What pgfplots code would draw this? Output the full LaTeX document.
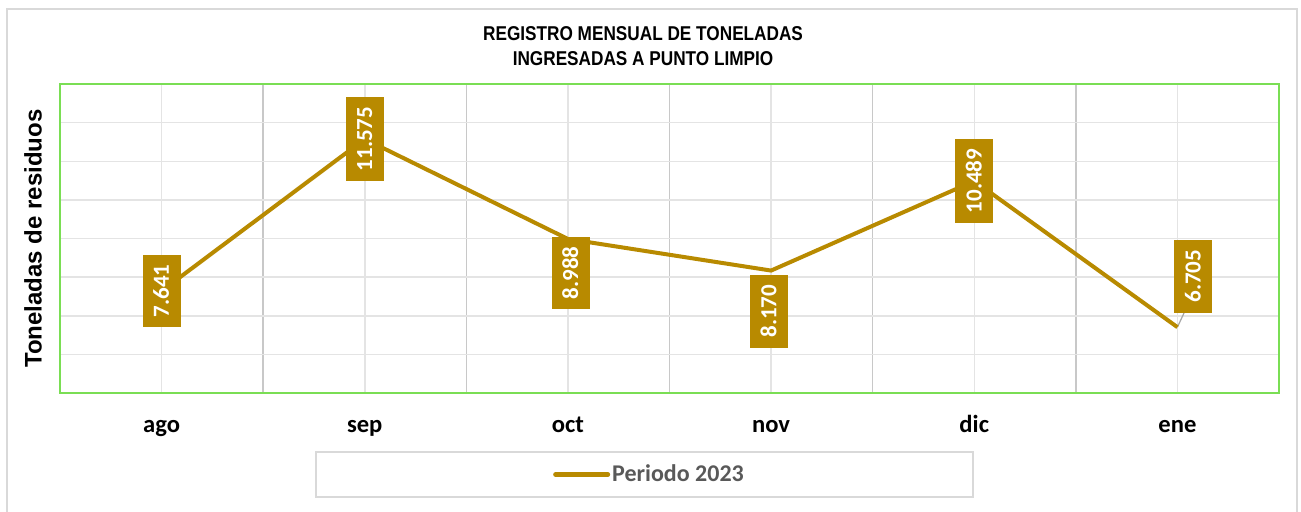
\documentclass[border=0pt]{standalone}
\usepackage{pgfplots}
\usepackage{pgfplotstable}
\pgfplotsset{compat=1.18}
\usepackage{fontspec}
\setmainfont{Liberation Sans}
\newfontfamily\calibri{Carlito}
\newfontfamily\narrowfont{Liberation Sans}[FakeStretch=0.86]
\definecolor{gold}{RGB}{184,138,0}
\definecolor{greenframe}{RGB}{122,222,84}
\definecolor{gridlight}{RGB}{228,228,228}
\definecolor{griddark}{RGB}{200,200,200}
\definecolor{legtext}{RGB}{89,89,89}
\definecolor{frame}{RGB}{217,217,217}

\pgfplotstableread{
x y lab dx dy
0 7.641 7.641 0 0
1 11.575 11.575 0 0
2 8.988 8.988 1.5 -17
3 8.170 8.170 -1 -20.3
4 10.489 10.489 0 0
5 6.705 6.705 8 25.5
}\datatable

\begin{document}
\begin{tikzpicture}
\useasboundingbox (0,0) rectangle (650.5bp,-256bp);
\fill[white] (0,0) rectangle (650.5bp,-256bp);
\draw[frame, line width=1.2bp] (3.5bp,-4.5bp) rectangle (648.5bp,-300bp);
\draw[frame, line width=0.6bp] (158bp,-226bp) rectangle (486.5bp,-248.5bp);
\begin{axis}[
  at={(30bp,-196.5bp)}, anchor=south west,
  scale only axis, width=609.5bp, height=154.5bp,
  xmin=-0.5, xmax=5.5, ymin=5, ymax=13,
  xtick={0,...,5}, xticklabels={ago,sep,oct,nov,dic,ene},
  minor xtick={0.5,1.5,...,4.5},
  ytick={5,...,13}, yticklabels={},
  major tick length=0pt, minor tick length=0pt,
  xmajorgrids, ymajorgrids, xminorgrids,
  major grid style={gridlight, line width=0.75bp},
  minor grid style={griddark, line width=0.75bp},
  axis line style={greenframe, line width=1.3bp},
  xticklabel style={font=\calibri\bfseries\fontsize{12.3bp}{14bp}\selectfont, anchor=base, yshift=-19.5bp},
  title={REGISTRO MENSUAL DE TONELADAS\\INGRESADAS A PUNTO LIMPIO},
  title style={at={(axis description cs:0.4783,1.0825)}, anchor=center, align=center,
    font=\narrowfont\fontsize{10bp}{12.5bp}\selectfont\bfseries},
  ylabel={Toneladas de residuos},
  ylabel style={at={(axis description cs:-0.0222,0.5)}, anchor=center,
    font=\bfseries\fontsize{12bp}{14bp}\selectfont},
  legend style={at={(axis description cs:0.4836,-0.2638)}, anchor=center, draw=none, fill=none,
    font=\calibri\bfseries\fontsize{12bp}{14bp}\selectfont, text=legtext, inner sep=0pt,
    nodes={inner sep=1bp}},
  legend image code/.code={\draw[#1] (0bp,0bp) -- (26bp,0bp);},
]
\addlegendimage{gold, line width=2.5bp, line cap=round}
\addlegendentry{Periodo 2023}
\addplot[gray!70, line width=0.6bp, forget plot] coordinates {(5,6.705) (5.035,7.1)};
\addplot[gold, line width=2bp, mark=none, forget plot,
  nodes near coords, point meta=explicit symbolic,
  nodes near coords align={center},
  visualization depends on={\thisrow{dx}\as\dx},
  visualization depends on={\thisrow{dy}\as\dy},
  every node near coord/.style={xshift=\dx bp, yshift=\dy bp, rotate=90, anchor=center,
    fill=gold, text=white, font=\calibri\bfseries\fontsize{11.5bp}{13bp}\selectfont,
    inner xsep=5bp, inner ysep=0pt, minimum height=19bp, text height=7.3bp, text depth=0pt}
] table[x=x, y=y, meta=lab] {\datatable};
\end{axis}
\end{tikzpicture}
\end{document}
